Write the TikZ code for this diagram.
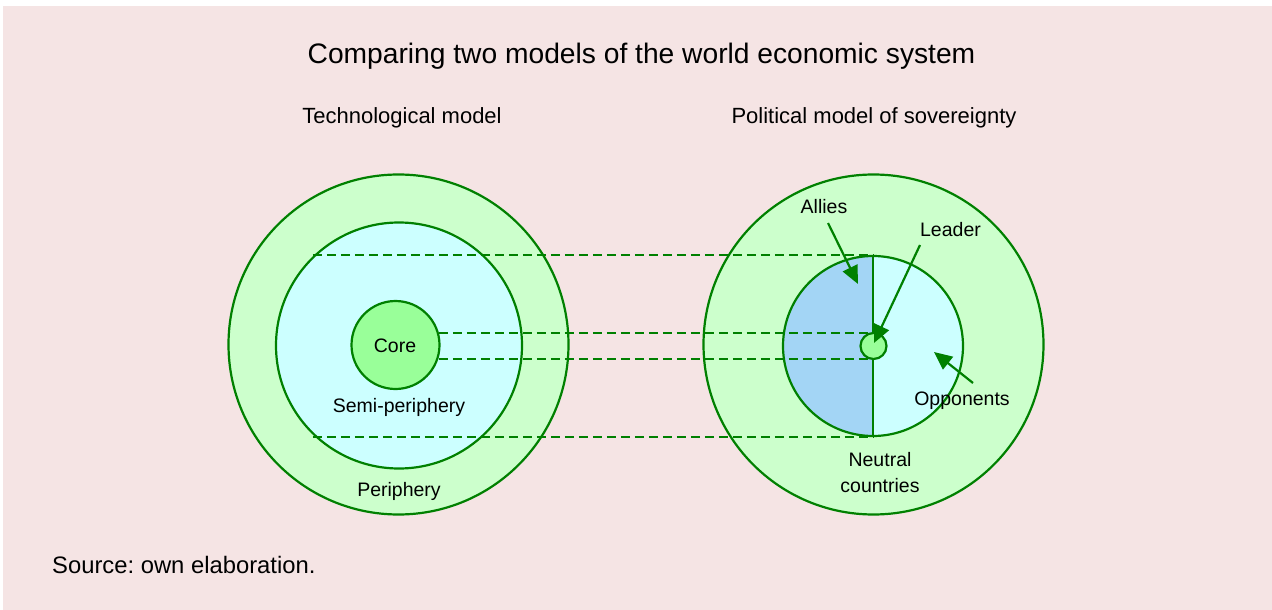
\documentclass[tikz,border=0pt]{standalone}
\usepackage{fontspec}
\setmainfont{Liberation Sans}
\usetikzlibrary{arrows.meta}
\frenchspacing

\definecolor{bgpink}{RGB}{245,228,228}
\definecolor{ringgreen}{RGB}{0,128,0}
\definecolor{paleGreen}{RGB}{204,255,204}
\definecolor{paleCyan}{RGB}{204,255,255}
\definecolor{coreGreen}{RGB}{153,255,153}
\definecolor{allyBlue}{RGB}{163,213,245}

\begin{document}
\begin{tikzpicture}[x=1pt,y=-1pt,
  ring/.style={circle,draw=ringgreen,line width=2.2pt,inner sep=0pt,minimum size=#1},
  ringline/.style={draw=ringgreen,line width=2.2pt},
  dashline/.style={draw=ringgreen,line width=2.2pt,dash pattern=on 9pt off 5pt},
  ptr/.style={draw=ringgreen,line width=2.2pt,-{Triangle[length=18pt,width=16pt]}},
  lbl/.style={font=\fontsize{19.5}{23}\selectfont,anchor=base,inner sep=0pt},
  heading/.style={font=\fontsize{22}{26}\selectfont,anchor=base,inner sep=0pt},
]
% canvas
\useasboundingbox (0,0) rectangle (1272,610);
\fill[bgpink] (3,6) rectangle (1272,610);

% titles
\node[font=\fontsize{28.2}{33}\selectfont,anchor=base,inner sep=0pt] (title) at (641.5,64)
  {Comparing two models of the world economic system};
\node[heading] (techTitle) at (402,123) {Technological model};
\node[heading] (polTitle) at (874,123) {Political model of sovereignty};
\node[font=\fontsize{23.8}{28}\selectfont,anchor=base west,inner sep=0pt] (source) at (52,573)
  {Source: own elaboration.};

% technological model: concentric rings
\node[ring=340pt,fill=paleGreen] (lperiph) at (398.5,344.5) {};
\node[ring=246pt,fill=paleCyan] (lsemi) at (399,345.5) {};
\node[ring=88pt,fill=coreGreen] (core) at (395.5,345) {};

% political model: outer ring and split inner circle
\node[ring=340pt,fill=paleGreen] (rout) at (873.5,344.5) {};
\node[ring=180pt,fill=paleCyan,
  path picture={\fill[allyBlue] (path picture bounding box.north west)
     rectangle (path picture bounding box.south);}] (rin) at (873,346) {};
\draw[ringline] (rin.north) -- (rin.south);

% correspondence between the two models
\node[circle,inner sep=0pt,minimum size=26pt] (leaderpos) at (873.5,346) {};
\draw[dashline] (rin.north -| lsemi.134) -- (rin.north);
\draw[dashline] (rin.south -| lsemi.226) -- (rin.south);
\draw[dashline] (leaderpos.north -| core.16) -- (leaderpos.north);
\draw[dashline] (leaderpos.south -| core.-16) -- (leaderpos.south);
\node[ring=26pt,fill=coreGreen] (leader) at (873.5,346) {};

% labels of the technological model
\node[lbl] (coreLbl) at (395,352) {Core};
\node[lbl] (semiLbl) at (399,412) {Semi-periphery};
\node[lbl] (periLbl) at (399,496) {Periphery};

% labels of the political model
\node[lbl] (allies) at (824,213) {Allies};
\node[lbl] (leaderLbl) at (950.5,236) {Leader};
\node[lbl] (opponents) at (962,405) {Opponents};
\node[lbl] (neutral1) at (880,466) {Neutral};
\node[lbl] (neutral2) at (880,492) {countries};

% pointers
\coordinate (alliesFrom) at (828,223);
\coordinate (alliesTip) at (858,284);
\coordinate (leaderFrom) at (920,245);
\coordinate (leaderTip) at (874,343);
\coordinate (oppFrom) at (973,383);
\coordinate (oppTip) at (934,352);
\draw[ptr] (alliesFrom) -- (alliesTip);
\draw[ptr] (leaderFrom) -- (leaderTip);
\draw[ptr] (oppFrom) -- (oppTip);
\end{tikzpicture}
\end{document}
